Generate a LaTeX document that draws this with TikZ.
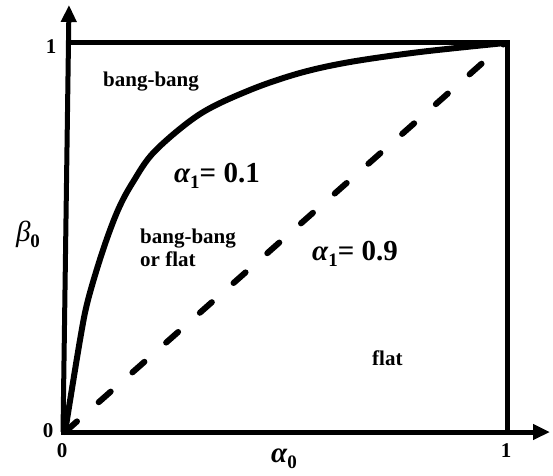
\documentclass[tikz,border=0pt]{standalone}
\usepackage{fontspec}
\setmainfont{Liberation Serif}
\usetikzlibrary{arrows.meta}
\tikzset{
  thick line/.style={line width=5pt},
  axis/.style={line width=5pt,-{Triangle[length=17pt,width=15pt]}},
  lbl/.style={font=\fontsize{21}{23}\selectfont\bfseries,inner sep=0pt,anchor=base west},
  tick/.style={font=\fontsize{21}{21}\selectfont\bfseries,inner sep=0pt},
  greek/.style={font=\fontsize{29}{29}\selectfont\bfseries,inner sep=0pt,anchor=base west},
}
\newcommand{\subone}[1]{\raisebox{-6pt}{\upshape\bfseries\fontsize{19}{19}\selectfont #1}}
\begin{document}
\begin{tikzpicture}[x=1pt,y=-1pt]
\useasboundingbox (0,0) rectangle (553,475);
\coordinate (O) at (63,432);
\coordinate (Ytop) at (69,5);
\coordinate (Xend) at (550,432);
\coordinate (TL) at (68,42);
\coordinate (TR) at (507,42);
\coordinate (BR) at (507,432);
% axes
\draw[axis] (O) -- (Ytop);
\draw[axis] ([xshift=-2.5pt]O) -- (Xend);
% box
\draw[thick line] ([xshift=-2.5pt]TL) -- ([xshift=2.5pt]TR);
\draw[thick line] (TR) -- (BR);
% curve alpha1 = 0.1
\draw[line width=6pt,line cap=round,line join=round]
  plot[smooth,tension=0.55] coordinates {(65,432) (80,340) (88,300) (103,250) (118,210) (133,182) (155,151) (200,114) (250,90) (300,73) (350,62) (420,52) (505,43)};
% dashed alpha1 = 0.9
\draw[line width=6pt,line cap=round,dash pattern=on 16pt off 29pt] (65,432) -- (505,43);
% tick labels
\node[tick] (y1) at (51,47) {1};
\node[tick] (y0) at (48,431) {0};
\node[tick] (x0) at (62,451) {0};
\node[tick] (x1) at (506,451) {1};
% axis labels
\node[font=\fontsize{29}{29}\selectfont\itshape,inner sep=0pt] (beta) at (28,234) {β\subone{0}};
\node[font=\fontsize{29}{29}\selectfont\bfseries\itshape,inner sep=0pt] (alpha) at (284,459) {α\subone{0}};
% region labels
\node[lbl] (bb) at (103,86) {bang-bang};
\node[lbl,align=left,anchor=north west] (bbf) at (140,229) {bang-bang\\or flat};
\node[lbl] (flat) at (372,365) {flat};
\node[greek] (a01) at (174,182) {{\itshape α}\subone{1}= 0.1};
\node[greek] (a09) at (312,260) {{\itshape α}\subone{1}= 0.9};
\end{tikzpicture}
\end{document}
